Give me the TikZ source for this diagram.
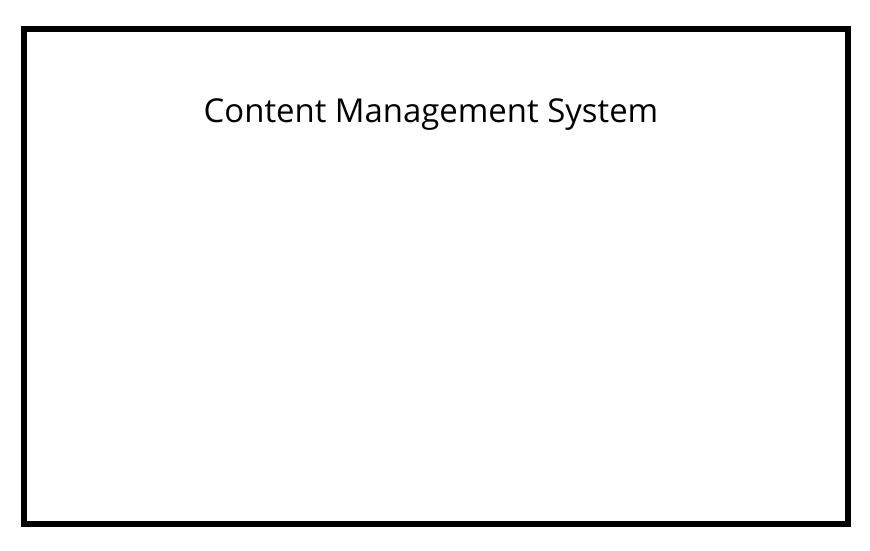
\documentclass[tikz,border=0pt]{standalone}
\usepackage{fontspec}
\setmainfont{Open Sans}
\usetikzlibrary{positioning}

\begin{document}
\begin{tikzpicture}[x=1pt,y=-1pt]
    \useasboundingbox (0,0) rectangle (870,550);

    % System boundary
    \node[draw,line width=6pt,minimum width=824pt,minimum height=495pt,inner sep=0pt,outer sep=0pt,anchor=north west] (cms) at (24,29) {};

    % Title
    \node[anchor=base,inner sep=0pt,font=\fontsize{32.9}{38}\selectfont] (title) at (431,122.5) {Content Management System};
\end{tikzpicture}
\end{document}
